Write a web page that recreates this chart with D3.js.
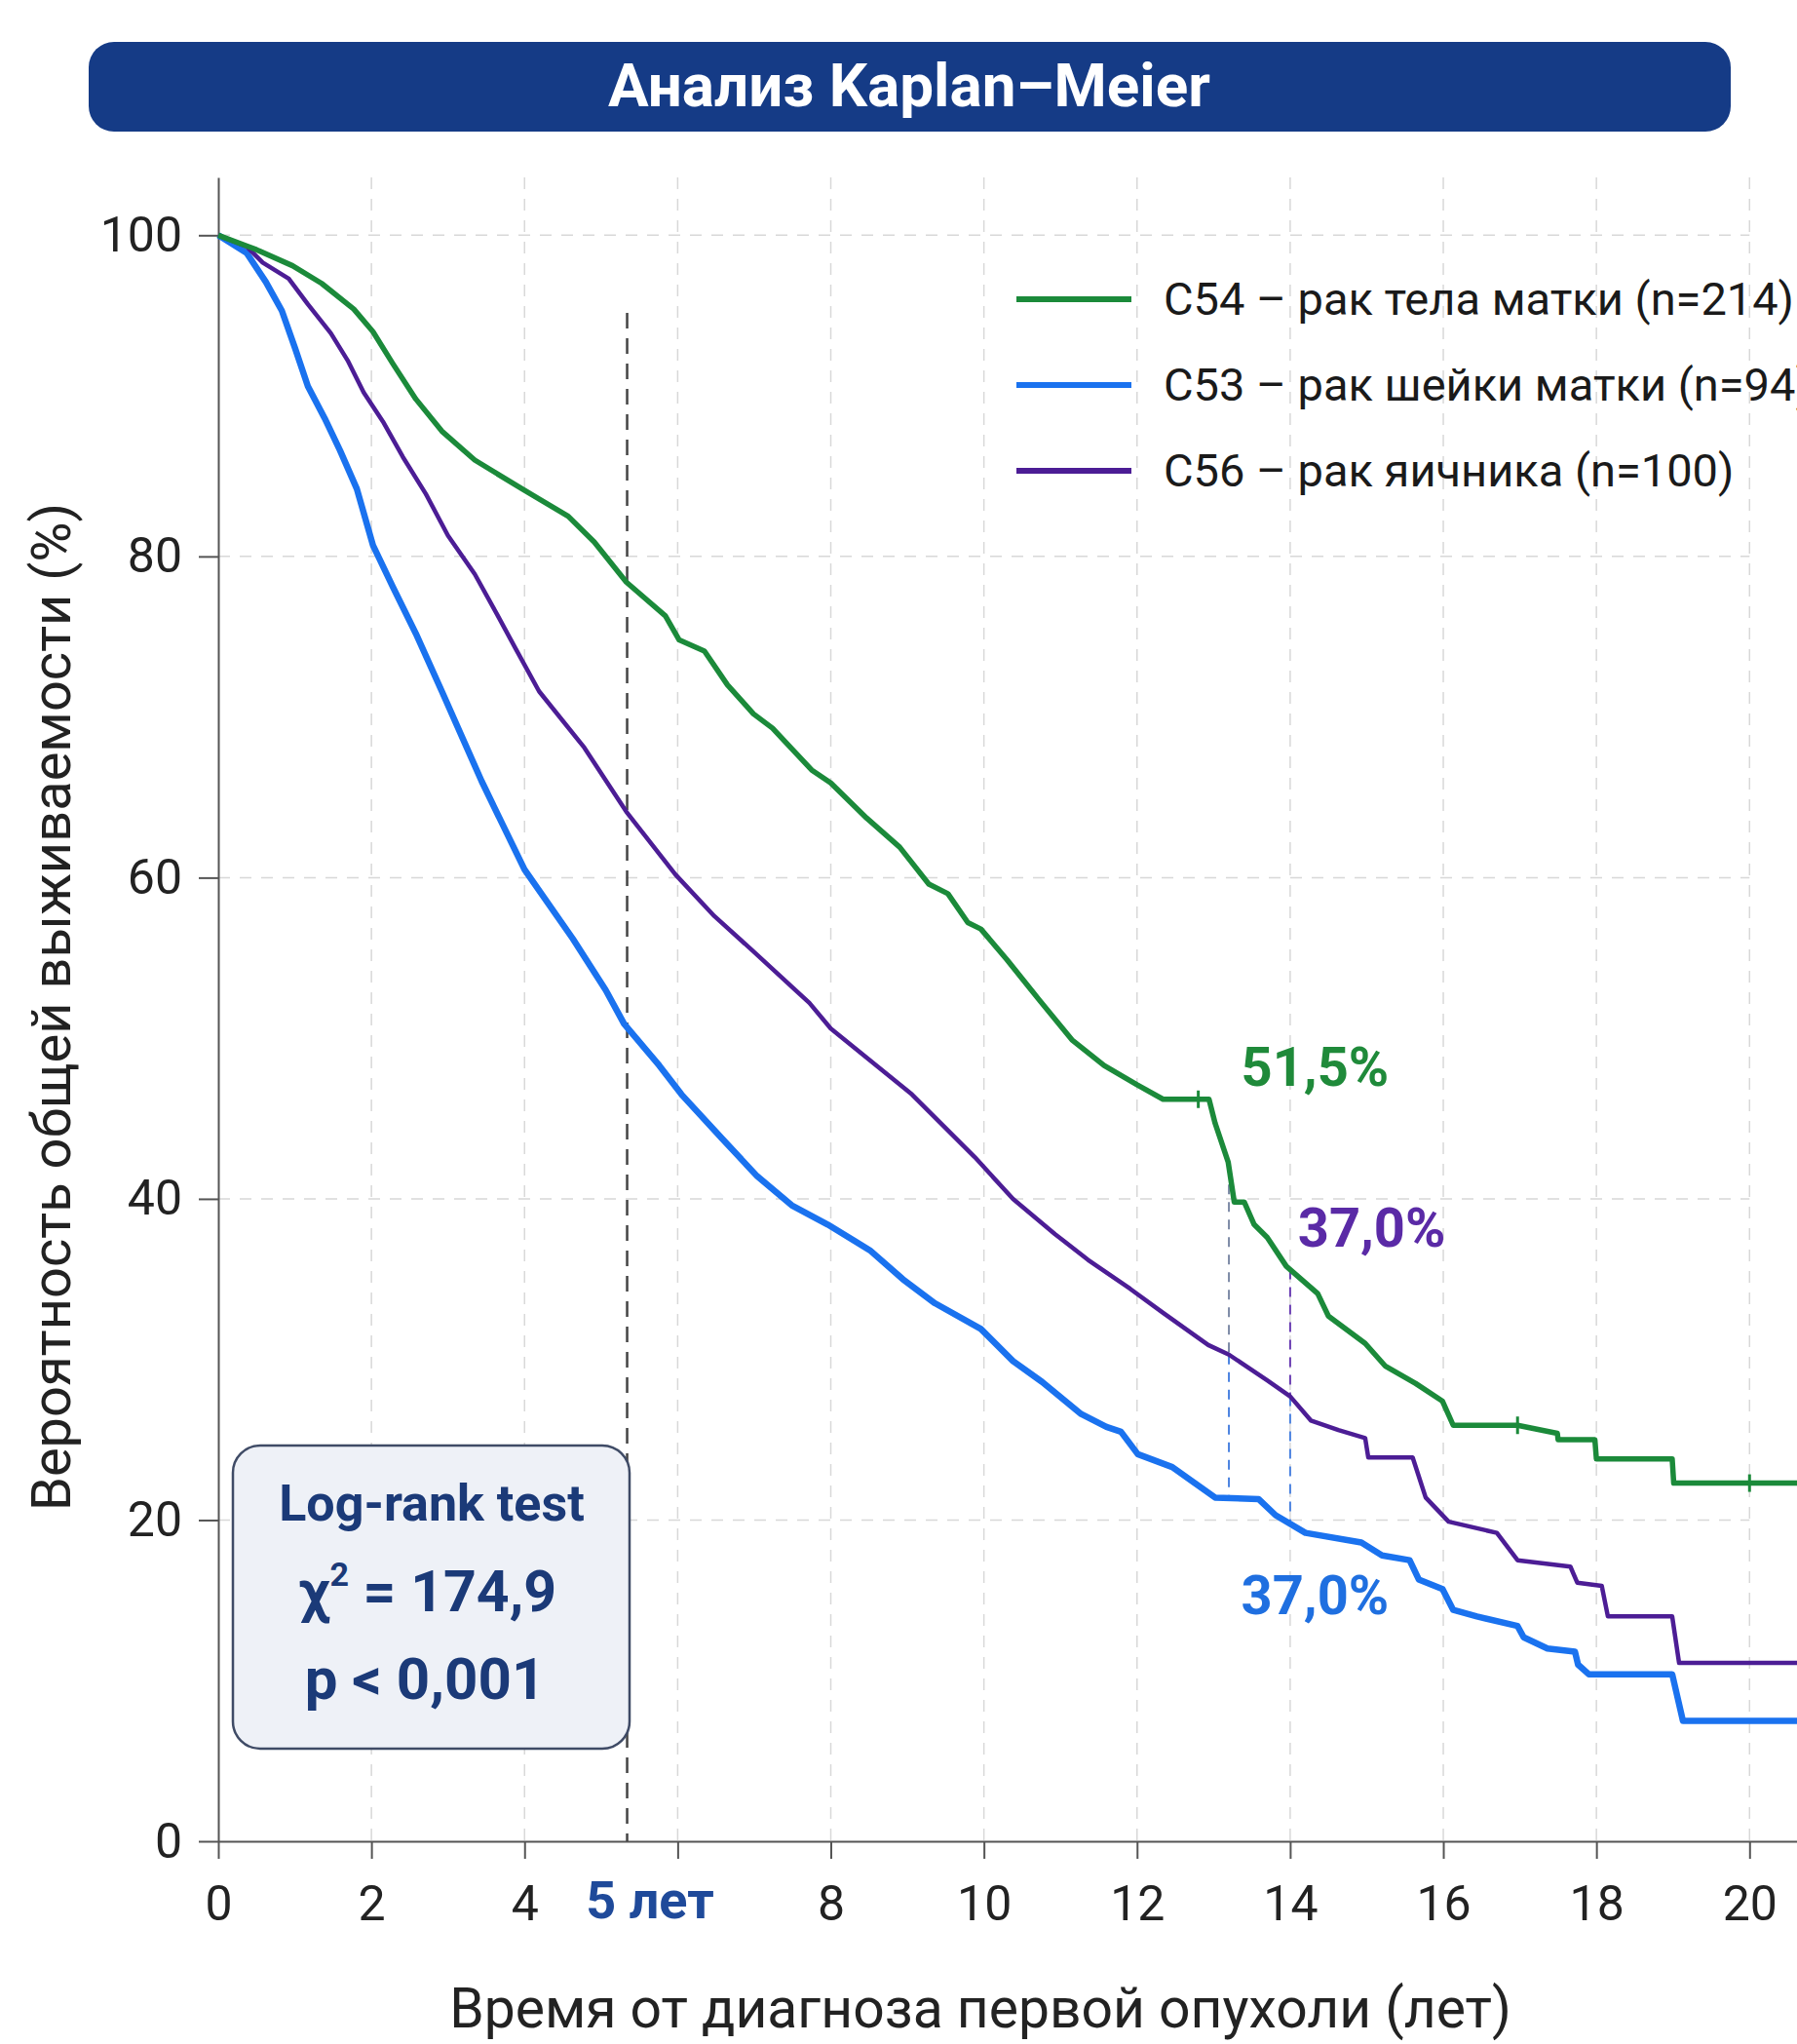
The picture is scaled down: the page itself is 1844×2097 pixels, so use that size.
<!DOCTYPE html>
<html lang="ru">
<head>
<meta charset="utf-8">
<title>Анализ Kaplan–Meier</title>
<script src="https://cdn.jsdelivr.net/npm/d3@7/dist/d3.min.js"></script>
<style>
  html, body { margin: 0; padding: 0; background: #fff; }
  svg { display: block; font-family: Roboto, "Noto Sans", Arial, sans-serif; }
</style>
</head>
<body>
<div id="chart"></div>
<script>
// Kaplan–Meier curves, [years, survival %]
const c54Points = [
  [0, 100], [0.5, 99.1], [0.97, 98.1], [1.35, 97.0], [1.77, 95.4], [2.02, 94.0], [2.28, 92.0],
  [2.58, 89.8], [2.92, 87.8], [3.35, 86.0], [3.97, 84.2], [4.57, 82.5], [4.91, 80.9], [5.33, 78.4],
  [5.84, 76.3], [6.02, 74.8], [6.35, 74.1], [6.65, 72.0], [6.99, 70.2], [7.24, 69.3], [7.75, 66.7],
  [8.0, 65.9], [8.47, 63.7], [8.9, 61.9], [9.28, 59.6], [9.53, 59.0], [9.79, 57.2], [9.96, 56.8],
  [10.3, 54.9], [10.72, 52.4], [11.15, 49.9], [11.57, 48.3], [12.0, 47.1], [12.34, 46.2], [12.94, 46.2],
  [13.02, 44.7], [13.19, 42.3], [13.27, 39.8], [13.4, 39.8], [13.53, 38.4], [13.7, 37.6], [13.95, 35.8],
  [14.36, 34.1], [14.5, 32.7], [14.98, 31.0], [15.24, 29.6], [15.64, 28.5], [15.99, 27.4], [16.13, 25.9],
  [16.97, 25.9], [17.49, 25.4], [17.5, 25.0], [17.98, 25.0], [18.0, 23.8], [18.99, 23.8], [19.01, 22.3],
  [20.62, 22.3]
];
const c53Points = [
  [0, 100], [0.37, 98.9], [0.62, 97.1], [0.83, 95.3], [1.0, 93.0], [1.17, 90.6], [1.39, 88.6],
  [1.59, 86.6], [1.81, 84.2], [2.02, 80.7], [2.28, 78.1], [2.58, 75.2], [2.92, 71.6], [3.44, 66.0],
  [4.0, 60.5], [4.63, 56.2], [5.06, 53.0], [5.3, 50.9], [5.76, 48.3], [6.05, 46.5], [6.57, 43.8],
  [7.04, 41.4], [7.49, 39.6], [7.96, 38.4], [8.51, 36.8], [8.94, 35.0], [9.36, 33.5], [9.96, 31.9],
  [10.38, 29.9], [10.76, 28.6], [11.27, 26.6], [11.6, 25.8], [11.79, 25.5], [12.01, 24.1], [12.46, 23.3],
  [13.02, 21.4], [13.59, 21.3], [13.81, 20.3], [14.2, 19.2], [14.93, 18.6], [15.2, 17.8], [15.56, 17.5],
  [15.68, 16.3], [15.99, 15.7], [16.13, 14.4], [16.44, 14.0], [16.97, 13.4], [17.05, 12.7], [17.36, 12.0],
  [17.72, 11.8], [17.76, 11.0], [17.9, 10.4], [18.99, 10.4], [19.13, 7.5], [20.62, 7.5]
];
const c56Points = [
  [0, 100], [0.37, 99.3], [0.58, 98.3], [0.92, 97.3], [1.17, 95.7], [1.47, 93.9], [1.69, 92.2],
  [1.9, 90.2], [2.15, 88.4], [2.41, 86.2], [2.71, 83.9], [3.0, 81.3], [3.35, 78.9], [3.64, 76.4],
  [3.89, 74.2], [4.19, 71.6], [4.78, 68.1], [5.33, 64.1], [5.97, 60.2], [6.48, 57.6], [6.99, 55.4],
  [7.72, 52.2], [8.0, 50.6], [9.06, 46.5], [9.88, 42.6], [10.38, 40.0], [10.93, 37.8], [11.36, 36.2],
  [11.91, 34.4], [12.34, 32.9], [12.93, 30.9], [13.2, 30.3], [13.7, 28.7], [14.0, 27.7], [14.27, 26.2],
  [14.63, 25.6], [14.98, 25.1], [15.02, 23.9], [15.6, 23.9], [15.77, 21.4], [16.07, 19.9], [16.7, 19.2],
  [16.97, 17.5], [17.66, 17.1], [17.75, 16.1], [18.07, 15.9], [18.15, 14.0], [18.99, 14.0], [19.08, 11.1],
  [20.62, 11.1]
];

// censored observations drawn as small ticks
const c54Censored = [12.8, 16.97, 20.0];

const seriesNames = ['С54 – рак тела матки (n=214)', 'С53 – рак шейки матки (n=94)', 'С56 – рак яичника (n=100)'];
const seriesColors = ['#1b8a3a', '#1a72ef', '#4c1d95'];
const seriesWidths = [5.5, 6.5, 4.5];

const xTicks = [0, 2, 4, 6, 8, 10, 12, 14, 16, 18, 20];
const yTicks = [0, 20, 40, 60, 80, 100];

const fiveYearMark = 5.34;
const markerTimes = [13.2, 14];

const annotations = [
  { text: '51,5%', t: 13.36, baseline: 1114, color: '#1f8a3a' },
  { text: '37,0%', t: 14.1, baseline: 1279, color: '#5a2aa6' },
  { text: '37,0%', t: 13.36, baseline: 1656, color: '#1f6fe0' }
];

const W = 1844, H = 2097;

const svg = d3.select('#chart').append('svg')
  .attr('width', W)
  .attr('height', H)
  .attr('viewBox', `0 0 ${W} ${H}`);

svg.append('rect').attr('width', W).attr('height', H).attr('fill', '#fff');

const x = d3.scaleLinear().domain([0, 20.62]).range([224, 1844]);
const y = d3.scaleLinear().domain([0, 103.6]).range([1889, 182]);

// Title banner
svg.append('rect')
  .attr('x', 91).attr('y', 43)
  .attr('width', 1685).attr('height', 92)
  .attr('rx', 26)
  .attr('fill', '#153b86');
svg.append('text')
  .attr('x', 933).attr('y', 109)
  .attr('text-anchor', 'middle')
  .attr('font-size', 62)
  .attr('font-weight', 700)
  .attr('fill', '#fff')
  .text('Анализ Kaplan–Meier');

// Grid
const grid = svg.append('g').attr('stroke', '#d8d8d8').attr('stroke-width', 1.5).attr('stroke-dasharray', '12,10');
grid.selectAll('line.v')
  .data(xTicks.filter(d => d > 0))
  .enter().append('line')
  .attr('x1', d => x(d)).attr('x2', d => x(d))
  .attr('y1', y(103.6)).attr('y2', y(0));
grid.selectAll('line.h')
  .data(yTicks.filter(d => d > 0))
  .enter().append('line')
  .attr('x1', x(0)).attr('x2', x(20))
  .attr('y1', d => y(d)).attr('y2', d => y(d));

// Axes
const xAxis = svg.append('g')
  .attr('transform', `translate(0,${y(0)})`)
  .call(d3.axisBottom(x)
    .tickValues(xTicks)
    .tickSize(18)
    .tickSizeOuter(0)
    .tickPadding(27)
    .tickFormat(d => d === 6 ? '' : d));

const yAxis = svg.append('g')
  .attr('transform', `translate(${x(0)},0)`)
  .call(d3.axisLeft(y)
    .tickValues(yTicks)
    .tickSize(20)
    .tickSizeOuter(0)
    .tickPadding(17));

[xAxis, yAxis].forEach(ax => {
  ax.select('.domain').attr('stroke', '#555').attr('stroke-width', 2);
  ax.selectAll('.tick line').attr('stroke', '#555').attr('stroke-width', 2);
  ax.selectAll('.tick text')
    .attr('font-size', 50)
    .attr('font-family', 'Roboto, sans-serif')
    .attr('fill', '#222');
});

// "5 лет" label in place of 6
svg.append('text')
  .attr('x', 667).attr('y', 1968)
  .attr('text-anchor', 'middle')
  .attr('font-size', 54)
  .attr('font-weight', 700)
  .attr('fill', '#1f4a9a')
  .text('5 лет');

// Axis titles
svg.append('text')
  .attr('x', 1006).attr('y', 2080)
  .attr('text-anchor', 'middle')
  .attr('font-size', 57)
  .attr('fill', '#222')
  .text('Время от диагноза первой опухоли (лет)');
svg.append('text')
  .attr('transform', 'translate(72,1033) rotate(-90)')
  .attr('text-anchor', 'middle')
  .attr('font-size', 56)
  .attr('fill', '#222')
  .text('Вероятность общей выживаемости (%)');

// 5-year reference line
svg.append('line')
  .attr('x1', x(fiveYearMark)).attr('x2', x(fiveYearMark))
  .attr('y1', 321).attr('y2', y(0))
  .attr('stroke', '#444')
  .attr('stroke-width', 2.5)
  .attr('stroke-dasharray', '16,10');

// value of a traced curve at time t (linear between traced vertices)
function valueAt(points, t) {
  for (let i = 1; i < points.length; i++) {
    if (points[i][0] >= t) {
      const [t0, v0] = points[i - 1], [t1, v1] = points[i];
      return v0 + (v1 - v0) * (t - t0) / (t1 - t0);
    }
  }
  return points[points.length - 1][1];
}

// dashed drop lines at 13.2 and 14 years
const markers = svg.append('g').attr('stroke-width', 2).attr('stroke-dasharray', '10,8');
markerTimes.forEach((t, i) => {
  const vg = valueAt(c54Points, t), vp = valueAt(c56Points, t), vb = valueAt(c53Points, t);
  markers.append('line')
    .attr('x1', x(t)).attr('x2', x(t))
    .attr('y1', y(vg)).attr('y2', y(vp))
    .attr('stroke', i === 0 ? '#7d8aa6' : '#6a3db3');
  markers.append('line')
    .attr('x1', x(t)).attr('x2', x(t))
    .attr('y1', y(vp)).attr('y2', y(vb))
    .attr('stroke', '#4a82e0');
});

// Curves
const line = d3.line()
  .x(d => x(d[0]))
  .y(d => y(d[1]))
  .curve(d3.curveLinear);

const allSeries = [c54Points, c53Points, c56Points];
// draw blue first, then purple, then green on top
[1, 2, 0].forEach(i => {
  svg.append('path')
    .datum(allSeries[i])
    .attr('fill', 'none')
    .attr('stroke', seriesColors[i])
    .attr('stroke-width', seriesWidths[i])
    .attr('stroke-linejoin', 'round')
    .attr('d', line);
});

svg.append('g').selectAll('line')
  .data(c54Censored)
  .enter().append('line')
  .attr('x1', d => x(d)).attr('x2', d => x(d))
  .attr('y1', d => y(valueAt(c54Points, d)) - 9)
  .attr('y2', d => y(valueAt(c54Points, d)) + 9)
  .attr('stroke', seriesColors[0])
  .attr('stroke-width', 3);

// Percent labels
svg.append('g').selectAll('text')
  .data(annotations)
  .enter().append('text')
  .attr('x', d => x(d.t))
  .attr('y', d => d.baseline)
  .attr('font-size', 56)
  .attr('font-weight', 700)
  .attr('fill', d => d.color)
  .text(d => d.text);

// Legend
const legend = svg.append('g');
seriesNames.forEach((name, i) => {
  const ly = 307 + i * 88;
  legend.append('line')
    .attr('x1', 1043).attr('x2', 1161)
    .attr('y1', ly).attr('y2', ly)
    .attr('stroke', seriesColors[i])
    .attr('stroke-width', 6);
  legend.append('text')
    .attr('x', 1194).attr('y', ly)
    .attr('dy', '0.35em')
    .attr('font-size', 47)
    .attr('fill', '#1a1a1a')
    .text(name);
});

// Log-rank box
const box = svg.append('g');
box.append('rect')
  .attr('x', 239).attr('y', 1483)
  .attr('width', 407).attr('height', 311)
  .attr('rx', 28)
  .attr('fill', '#eef1f7')
  .attr('stroke', '#3f4b66')
  .attr('stroke-width', 2.5);
box.append('text')
  .attr('x', 443).attr('y', 1560)
  .attr('text-anchor', 'middle')
  .attr('font-size', 52)
  .attr('font-weight', 700)
  .attr('fill', '#1b3a78')
  .text('Log-rank test');
const chi = box.append('text')
  .attr('x', 439).attr('y', 1653)
  .attr('text-anchor', 'middle')
  .attr('font-size', 59)
  .attr('font-weight', 700)
  .attr('fill', '#1b3a78');
chi.append('tspan').text('χ');
chi.append('tspan').attr('font-size', 34).attr('dy', -26).text('2');
chi.append('tspan').attr('dy', 26).text(' = 174,9');
box.append('text')
  .attr('x', 436).attr('y', 1743)
  .attr('text-anchor', 'middle')
  .attr('font-size', 60)
  .attr('font-weight', 700)
  .attr('fill', '#1b3a78')
  .text('p < 0,001');
</script>
</body>
</html>
